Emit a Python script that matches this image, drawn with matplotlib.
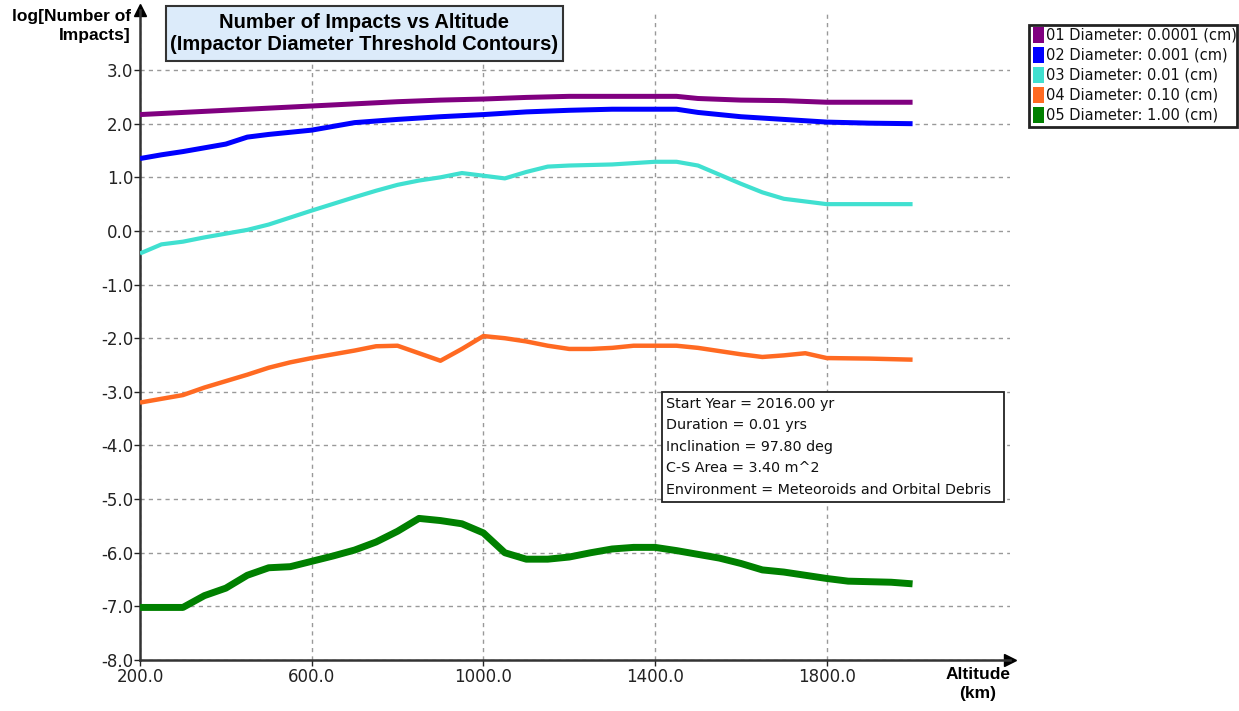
import matplotlib
matplotlib.use("Agg")
import matplotlib.pyplot as plt
from matplotlib.patches import Rectangle

plt.rcParams["font.family"] = ["DejaVu Sans"]
BOLD = ["Liberation Sans", "DejaVu Sans"]

# altitude grid (km) per series
alt_01 = [200, 300, 400, 500, 600, 700, 800, 900, 1000, 1100, 1200, 1300, 1400, 1450, 1500, 1600, 1700, 1800, 1900, 2000]
d_01 = [2.17, 2.21, 2.25, 2.29, 2.33, 2.37, 2.41, 2.44, 2.46, 2.49, 2.51, 2.51, 2.51, 2.51, 2.47, 2.44, 2.43, 2.40, 2.40, 2.40]

alt_02 = [200, 250, 300, 350, 400, 450, 500, 600, 700, 800, 900, 1000, 1100, 1200, 1300, 1400, 1450, 1500, 1600, 1700, 1800, 1900, 2000]
d_02 = [1.35, 1.42, 1.48, 1.55, 1.62, 1.75, 1.80, 1.88, 2.02, 2.08, 2.13, 2.17, 2.22, 2.25, 2.27, 2.27, 2.27, 2.21, 2.13, 2.08, 2.03, 2.01, 2.00]

alt_03 = [200, 250, 300, 350, 400, 450, 500, 600, 700, 750, 800, 850, 900, 950, 1000, 1050, 1100, 1150, 1200, 1300, 1400, 1450, 1500, 1550, 1600, 1650, 1700, 1750, 1800, 1900, 2000]
d_03 = [-0.42, -0.25, -0.20, -0.12, -0.05, 0.02, 0.12, 0.38, 0.63, 0.75, 0.86, 0.94, 1.00, 1.08, 1.03, 0.98, 1.10, 1.20, 1.22, 1.24, 1.29, 1.29, 1.22, 1.05, 0.88, 0.72, 0.60, 0.55, 0.50, 0.50, 0.50]

alt_04 = [200, 250, 300, 350, 400, 450, 500, 550, 600, 650, 700, 750, 800, 850, 900, 950, 1000, 1050, 1100, 1150, 1200, 1250, 1300, 1350, 1400, 1450, 1500, 1550, 1600, 1650, 1700, 1750, 1800, 1900, 2000]
d_04 = [-3.20, -3.13, -3.06, -2.92, -2.80, -2.68, -2.55, -2.45, -2.37, -2.30, -2.23, -2.15, -2.14, -2.28, -2.42, -2.20, -1.96, -2.00, -2.06, -2.14, -2.20, -2.20, -2.18, -2.14, -2.14, -2.14, -2.18, -2.24, -2.30, -2.35, -2.32, -2.28, -2.37, -2.38, -2.40]

alt_05 = [200, 250, 300, 350, 400, 450, 500, 550, 600, 650, 700, 750, 800, 850, 900, 950, 1000, 1050, 1100, 1150, 1200, 1250, 1300, 1350, 1400, 1450, 1500, 1550, 1600, 1650, 1700, 1750, 1800, 1850, 1900, 1950, 2000]
d_05 = [-7.02, -7.02, -7.02, -6.80, -6.66, -6.42, -6.28, -6.26, -6.16, -6.06, -5.95, -5.80, -5.60, -5.36, -5.40, -5.46, -5.63, -6.00, -6.12, -6.12, -6.08, -6.00, -5.93, -5.90, -5.90, -5.96, -6.03, -6.10, -6.20, -6.32, -6.36, -6.42, -6.48, -6.53, -6.54, -6.55, -6.58]

series = [
    ("01 Diameter: 0.0001 (cm)", alt_01, d_01, "#800080", 3.6),
    ("02 Diameter: 0.001 (cm)", alt_02, d_02, "#0000ff", 3.6),
    ("03 Diameter: 0.01 (cm)", alt_03, d_03, "#40e0d0", 3.0),
    ("04 Diameter: 0.10 (cm)", alt_04, d_04, "#ff6a22", 3.2),
    ("05 Diameter: 1.00 (cm)", alt_05, d_05, "#008000", 5.0),
]

x_ticks = [200, 600, 1000, 1400, 1800]
y_ticks = [3, 2, 1, 0, -1, -2, -3, -4, -5, -6, -7, -8]

info_lines = [
    "Start Year = 2016.00 yr",
    "Duration = 0.01 yrs",
    "Inclination = 97.80 deg",
    "C-S Area = 3.40 m^2",
    "Environment = Meteoroids and Orbital Debris",
]

W, H = 1239, 711
fig = plt.figure(figsize=(W / 100, H / 100), dpi=100)
ax = fig.add_axes([140 / W, 51 / H, 870 / W, 650 / H])
ax.set_xlim(200, 2227)
ax.set_ylim(-8, 4.12)

for name, x, y, c, lw in series:
    ax.plot(x, y, color=c, lw=lw, solid_capstyle="butt", label=name, zorder=3)

ax.set_xticks(x_ticks)
ax.set_xticklabels([f"{v:.1f}" for v in x_ticks])
ax.set_yticks(y_ticks)
ax.set_yticklabels([f"{v:.1f}" for v in y_ticks])
ax.tick_params(axis="both", labelsize=12, colors="#222222", length=4, width=1)
ax.tick_params(axis="y", pad=1)
ax.tick_params(axis="x", pad=2)
ax.grid(True, color="#999999", linestyle=(0, (3, 3)), lw=1)
for s in ["top", "right"]:
    ax.spines[s].set_visible(False)
for s in ["left", "bottom"]:
    ax.spines[s].set_color("#333333")
    ax.spines[s].set_linewidth(1.8)

# axis arrowheads
ax.plot(1, 0, marker=">", ms=8, color="black", transform=ax.transAxes, clip_on=False)
ax.plot(0, 1, marker="^", ms=8, color="black", transform=ax.transAxes, clip_on=False)

# axis labels
fig.text(131 / W, 1 - 9 / H, "log[Number of\nImpacts]", ha="right", va="top",
         fontsize=12.5, fontweight="bold", linespacing=1.3, family=BOLD)
fig.text(978 / W, 1 - 667 / H, "Altitude\n(km)", ha="center", va="top",
         fontsize=12.5, fontweight="bold", linespacing=1.3, family=BOLD)

# title box
fig.patches.append(Rectangle((166 / W, 1 - 61 / H), 397 / W, 55 / H, transform=fig.transFigure,
                             facecolor="#dcebfa", edgecolor="#333333", lw=1.5))
fig.text(364 / W, 1 - 34 / H, "Number of Impacts vs Altitude\n(Impactor Diameter Threshold Contours)",
         ha="center", va="center", fontsize=14.5, fontweight="bold", linespacing=1.2, family=BOLD)

# legend
fig.patches.append(Rectangle((1029 / W, 1 - 127 / H), 208 / W, 102 / H, transform=fig.transFigure,
                             facecolor="white", edgecolor="#222222", lw=2))
for i, (name, x, y, c, lw) in enumerate(series):
    yc = 35 + i * 20
    fig.patches.append(Rectangle((1033 / W, 1 - (yc + 8) / H), 11 / W, 16 / H,
                                 transform=fig.transFigure, facecolor=c, edgecolor="none"))
    fig.text(1046 / W, 1 - yc / H, name, ha="left", va="center", fontsize=10.5, color="#111111")

# info box
fig.patches.append(Rectangle((662 / W, 1 - 502 / H), 342 / W, 110 / H, transform=fig.transFigure,
                             facecolor="white", edgecolor="#222222", lw=1.3, zorder=5))
for i, line in enumerate(info_lines):
    fig.text(666 / W, 1 - (404 + i * 21.5) / H, line, ha="left", va="center",
             fontsize=10.3, color="#111111", zorder=6)

fig.savefig("out.png", dpi=100)
